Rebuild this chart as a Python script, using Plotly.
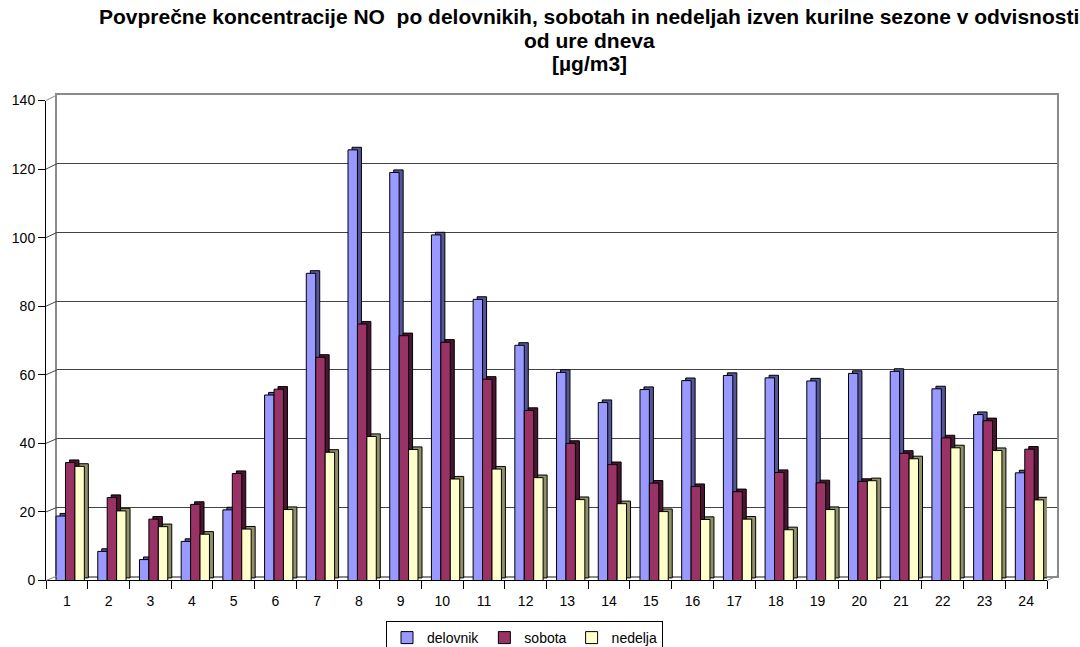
import plotly.graph_objects as go

# Mean NO concentrations by hour of day (outside the heating season)
hours = list(range(1, 25))
delovnik = [18.8, 8.5, 6.1, 11.4, 20.6, 54.1, 89.6, 125.6, 119.0, 100.8, 82.0, 68.6,
            60.7, 51.9, 55.7, 58.3, 59.8, 59.1, 58.2, 60.4, 61.0, 55.9, 48.4, 31.4]
sobota = [34.4, 24.2, 17.9, 22.2, 31.2, 55.8, 65.1, 74.8, 71.4, 69.5, 58.7, 49.6,
          40.0, 33.8, 28.4, 27.4, 25.9, 31.5, 28.5, 28.9, 37.1, 41.6, 46.6, 38.3]
nedelja = [33.3, 20.3, 15.7, 13.5, 15.0, 20.7, 37.4, 42.0, 38.2, 29.6, 32.5, 30.0,
           23.6, 22.4, 20.1, 17.8, 17.9, 14.8, 20.7, 29.1, 35.5, 38.7, 37.9, 23.5]
series_names = ["delovnik", "sobota", "nedelja"]
y_ticks = list(range(0, 141, 20))
title_lines = [
    "Povprečne koncentracije NO\u00a0 po delovnikih, sobotah in nedeljah izven kurilne sezone v odvisnosti",
    "od ure dneva",
    "[µg/m3]",
]

front_colors = ["#9999FF", "#993366", "#FFFFCC"]
depth_colors = ["#55559A", "#4A1530", "#8F8F6A"]

FONT = "Liberation Sans, Arial, sans-serif"
W, H = 1080, 647

# plot-area geometry (paper fractions)
front_x = [0.0, 0.990109]      # front plane (axis, bars)
back_x = [0.01088, 1.0]        # back wall
front_y = [0.001029, 0.98868]
back_y = [0.010288, 1.0]

bar_w = 0.226                  # bar width in category units
group_shift = 0.08             # bars sit slightly behind the front edge
depth_dx = 0.096               # 3-D depth, x (category units)
depth_dy = 0.76                # 3-D depth, y (value units)

fig = go.Figure()

# empty trace so the back-wall subplot is drawn first
fig.add_trace(go.Scatter(x=[None], y=[None], xaxis="x", yaxis="y",
                         showlegend=False, hoverinfo="skip"))

for i, (name, vals) in enumerate(zip(series_names, [delovnik, sobota, nedelja])):
    off = (i - 1.5) * bar_w + group_shift
    # receding side/top faces
    fig.add_trace(go.Bar(
        x=hours, y=vals, base=depth_dy, offset=off + depth_dx, width=bar_w,
        marker=dict(color=depth_colors[i], line=dict(color="black", width=1)),
        xaxis="x2", yaxis="y2", showlegend=False, hoverinfo="skip",
    ))
    # front face
    fig.add_trace(go.Bar(
        x=hours, y=vals, offset=off, width=bar_w, name=name,
        marker=dict(color=front_colors[i], line=dict(color="black", width=1)),
        xaxis="x2", yaxis="y2",
    ))

wall_col = "#8a8a8a"
shapes = []
# side-wall gridlines joining the front axis to the back wall
for v in y_ticks:
    yf = front_y[0] + v / 140 * (front_y[1] - front_y[0])
    yb = back_y[0] + v / 140 * (back_y[1] - back_y[0])
    shapes.append(dict(type="line", xref="paper", yref="paper",
                       x0=front_x[0], y0=yf, x1=back_x[0], y1=yb,
                       line=dict(color=wall_col if v in (0, 140) else "#444444", width=1)))
# right floor edge
shapes.append(dict(type="line", xref="paper", yref="paper",
                   x0=front_x[1], y0=front_y[0], x1=back_x[1], y1=back_y[0],
                   line=dict(color=wall_col, width=1)))

# three-line bold title
title_y = [17, 41, 63]
annotations = [
    dict(text=f"<b>{t}</b>", xref="paper", yref="paper",
         x=(589 - 46) / 1011, y=(581 - yy) / 486, xanchor="center", yanchor="middle",
         showarrow=False, font=dict(family=FONT, size=21, color="black"))
    for t, yy in zip(title_lines, title_y)
]

fig.update_layout(
    width=W, height=H,
    margin=dict(l=46, r=23, t=95, b=66, autoexpand=False),
    paper_bgcolor="white", plot_bgcolor="rgba(0,0,0,0)",
    barmode="overlay",
    font=dict(family=FONT, size=14, color="black"),
    # back wall with gridlines
    xaxis=dict(domain=back_x, range=[0.5, 24.5], showticklabels=False, ticks="",
               showgrid=False, zeroline=False, showline=True, mirror=True,
               linecolor=wall_col, linewidth=1.5, anchor="y", fixedrange=True),
    yaxis=dict(domain=back_y, range=[0, 140], tickvals=y_ticks, showticklabels=False,
               ticks="", showgrid=True, gridcolor="#444444", gridwidth=1,
               zeroline=False, showline=True, mirror=True, linecolor=wall_col,
               linewidth=1.5, anchor="x", fixedrange=True),
    # front axes carrying the bars
    xaxis2=dict(domain=front_x, range=[0.5, 24.5], tickmode="array", tickvals=hours,
                ticktext=[str(h) for h in hours], ticks="", showgrid=False,
                zeroline=False, showline=True, linecolor="black", linewidth=1,
                minor=dict(ticks="outside", tick0=0.5, dtick=1, ticklen=8,
                           tickcolor="black", tickwidth=1, showgrid=False),
                ticklabelstandoff=8,
                tickfont=dict(size=14), anchor="y2", fixedrange=True),
    yaxis2=dict(domain=front_y, range=[0, 140], tickvals=y_ticks, ticks="outside",
                ticklen=7, tickcolor="black", showgrid=False, zeroline=False,
                showline=True, linecolor="black", linewidth=1,
                tickfont=dict(size=14), anchor="x2", fixedrange=True),
    legend=dict(orientation="h", x=0.4733, xanchor="center", y=-0.0823, yanchor="top",
                bordercolor="black", borderwidth=1, bgcolor="white",
                font=dict(size=14), itemwidth=30, traceorder="normal"),
    shapes=shapes,
    annotations=annotations,
    showlegend=True,
)

fig.write_html("out.html")
